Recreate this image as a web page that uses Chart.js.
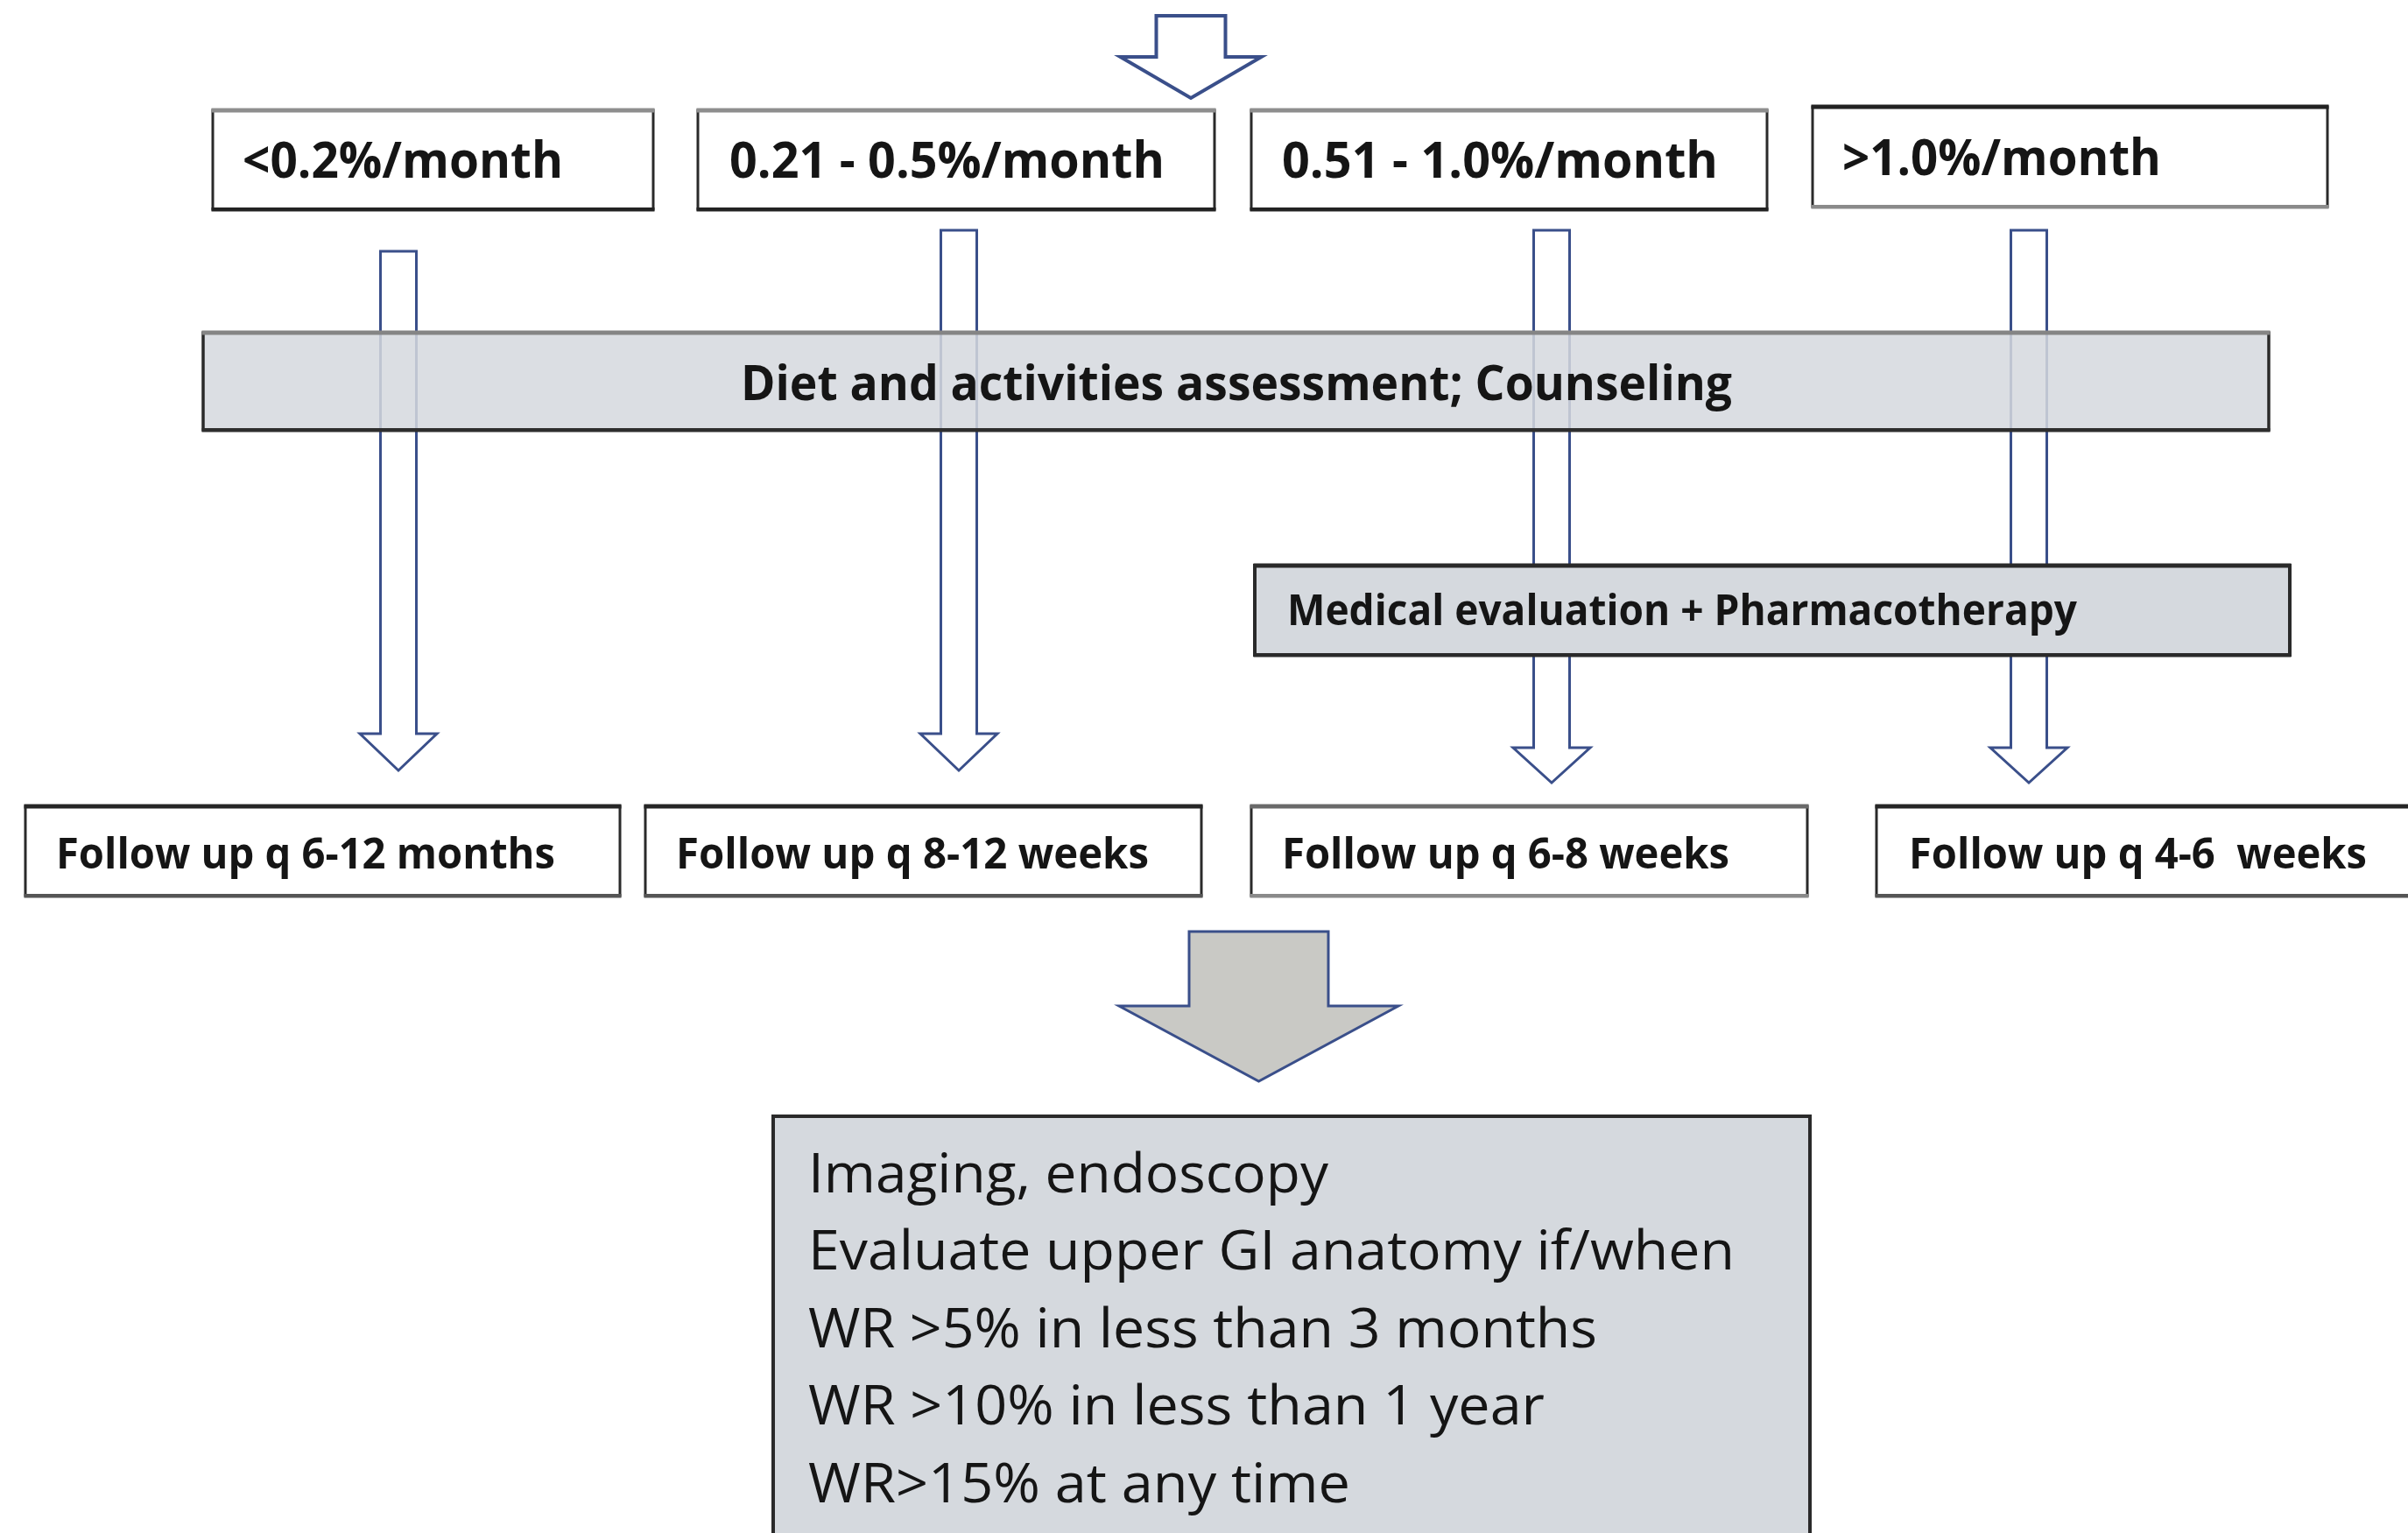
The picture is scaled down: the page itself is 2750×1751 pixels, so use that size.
<!DOCTYPE html>
<html><head><meta charset="utf-8">
<script src="https://cdn.jsdelivr.net/npm/chart.js@4.4.1/dist/chart.umd.min.js"></script>
<style>html,body{margin:0;padding:0;background:#fff;overflow:hidden}canvas{display:block}</style>
</head><body>
<canvas id="c" width="2750" height="1751"></canvas>
<script>
// ---- content (text of the flowchart) ----
const rangeLabels = ['<0.2%/month', '0.21 - 0.5%/month', '0.51 - 1.0%/month', '>1.0%/month'];
const assessmentLabel = ['Diet and activities assessment; Counseling'];
const therapyLabel = ['Medical evaluation + Pharmacotherapy'];
const followUpLabels = ['Follow up q 6-12 months', 'Follow up q 8-12 weeks', 'Follow up q 6-8 weeks', 'Follow up q 4-6  weeks'];
const criteriaLines = ['Imaging, endoscopy', 'Evaluate upper GI anatomy if/when', 'WR >5% in less than 3 months', 'WR >10% in less than 1 year', 'WR>15% at any time'];

// ---- layout, in axis units (x: 0..2750, y: 0..1751 downward) ----
const layout = {
  topArrow: {cx: 1360, shaftW: 79, headW: 161, top: 18, shoulder: 65, tip: 112},
  rangeBoxes: [
    {x0: 243, x1: 746, y0: 126, y1: 239, tx: 277, ty: 203, tw: 366, top: '#8e8e8e', bottom: '#222'},
    {x0: 797, x1: 1387, y0: 126, y1: 239, tx: 833, ty: 203, tw: 497, top: '#8e8e8e', bottom: '#222'},
    {x0: 1429, x1: 2018, y0: 126, y1: 239, tx: 1464, ty: 203, tw: 498, top: '#8e8e8e', bottom: '#222'},
    {x0: 2070, x1: 2658, y0: 122, y1: 236, tx: 2104, ty: 200, tw: 364, top: '#222', bottom: '#8a8a8a'}
  ],
  rangeCap: 41,
  thinArrows: [
    {cx: 455, top: 287, shoulder: 838, tip: 880},
    {cx: 1095, top: 263, shoulder: 838, tip: 880},
    {cx: 1772, top: 263, shoulder: 854, tip: 894},
    {cx: 2317, top: 263, shoulder: 854, tip: 894}
  ],
  thinShaftW: 41, thinHeadW: 88,
  dietBox: {x0: 232, x1: 2591, y0: 380, y1: 491, tx: 846, ty: 457, tw: 1132, cap: 40, top: '#858585', bottom: '#2e2e2e'},
  medBox: {x0: 1433, x1: 2615, y0: 646, y1: 748, tx: 1470, ty: 714, tw: 902, cap: 34, top: '#2a2a2a', bottom: '#2a2a2a'},
  followBoxes: [
    {x0: 29, x1: 708, y0: 921, y1: 1023, tx: 64, ty: 992, tw: 570, top: '#262626', bottom: '#555'},
    {x0: 737, x1: 1372, y0: 921, y1: 1023, tx: 772, ty: 992, tw: 540, top: '#262626', bottom: '#555'},
    {x0: 1429, x1: 2064, y0: 921, y1: 1023, tx: 1464, ty: 992, tw: 511, top: '#6a6a6a', bottom: '#8a8a8a'},
    {x0: 2143, x1: 2770, y0: 921, y1: 1023, tx: 2180, ty: 992, tw: 523, top: '#262626', bottom: '#555'}
  ],
  followCap: 35,
  bigArrow: {cx: 1437.5, shaftW: 159, headW: 319, top: 1064, shoulder: 1149, tip: 1235},
  bottomBox: {x0: 883, x1: 2067, y0: 1275, y1: 1770},
  criteria: {tx: 923, baselines: [1362, 1450, 1539, 1627, 1716], widths: [594, 1058, 901, 841, 619], cap: 45}
};

const BLUE = '#3a4f8a';
const GRAYFILL = '#d5d9de';
const TEXT = '#151515';
const FONT = '"Open Sans", "Noto Sans", sans-serif';

const flowPlugin = {
  id: 'flow',
  afterDraw(chart) {
    const ctx = chart.ctx;
    const sx = chart.scales.x, sy = chart.scales.y;
    const px = v => sx.getPixelForValue(v);
    const py = v => sy.getPixelForValue(v);

    function box(b, fill, lw) {
      const x0 = px(b.x0), x1 = px(b.x1), y0 = py(b.y0), y1 = py(b.y1);
      ctx.save();
      ctx.fillStyle = fill;
      ctx.fillRect(x0, y0, x1 - x0, y1 - y0);
      ctx.strokeStyle = '#2a2a2a';
      ctx.lineWidth = lw || 3;
      ctx.strokeRect(x0, y0, x1 - x0, y1 - y0);
      if (b.top) { ctx.fillStyle = b.top; ctx.fillRect(x0 - 1.5, y0 - 2.5, x1 - x0 + 3, 5); }
      if (b.bottom) { ctx.fillStyle = b.bottom; ctx.fillRect(x0 - 1.5, y1 - 2, x1 - x0 + 3, 4.5); }
      ctx.restore();
    }
    function text(str, x, base, cap, width, weight) {
      const size = cap / 0.714;
      ctx.save();
      ctx.font = `${weight} ${size}px ${FONT}`;
      ctx.fillStyle = TEXT;
      ctx.textBaseline = 'alphabetic';
      ctx.textAlign = 'left';
      const m = ctx.measureText(str).width;
      ctx.translate(px(x), py(base));
      if (width) ctx.scale(width / m, 1);
      ctx.fillText(str, 0, 0);
      ctx.restore();
    }
    function arrow(a, shaftW, headW, fill, stroke, lw) {
      const l = px(a.cx - shaftW / 2), r = px(a.cx + shaftW / 2);
      const hl = px(a.cx - headW / 2), hr = px(a.cx + headW / 2);
      const t = py(a.top), s = py(a.shoulder), tip = py(a.tip), c = px(a.cx);
      ctx.save();
      ctx.beginPath();
      ctx.moveTo(l, t); ctx.lineTo(l, s); ctx.lineTo(hl, s); ctx.lineTo(c, tip);
      ctx.lineTo(hr, s); ctx.lineTo(r, s); ctx.lineTo(r, t); ctx.closePath();
      ctx.fillStyle = fill; ctx.fill();
      ctx.strokeStyle = stroke; ctx.lineWidth = lw; ctx.lineJoin = 'miter';
      ctx.stroke();
      ctx.restore();
    }

    // top entry arrow
    const ta = layout.topArrow;
    arrow(ta, ta.shaftW, ta.headW, '#ffffff', BLUE, 4);

    // range boxes
    layout.rangeBoxes.forEach((b, i) => {
      box(b, '#ffffff', 3);
      text(rangeLabels[i], b.tx, b.ty, layout.rangeCap, b.tw, 'bold');
    });

    // thin arrows
    layout.thinArrows.forEach(a => arrow(a, layout.thinShaftW, layout.thinHeadW, '#ffffff', BLUE, 3));

    // diet box (slightly translucent so shafts show through)
    const d = layout.dietBox;
    box(Object.assign({}, d, {top: null, bottom: null}), 'rgba(213,217,222,0.86)', 3);
    box(Object.assign({}, d, {}), 'rgba(0,0,0,0)', 3);
    text(assessmentLabel[0], d.tx, d.ty, d.cap, d.tw, 'bold');

    // medical box (opaque)
    const m = layout.medBox;
    box(m, GRAYFILL, 4);
    text(therapyLabel[0], m.tx, m.ty, m.cap, m.tw, 'bold');

    // follow-up boxes
    layout.followBoxes.forEach((b, i) => {
      box(b, '#ffffff', 3);
      text(followUpLabels[i], b.tx, b.ty, layout.followCap, b.tw, 'bold');
    });

    // big gray arrow
    const ba = layout.bigArrow;
    arrow(ba, ba.shaftW, ba.headW, '#c9c9c5', BLUE, 3);

    // bottom criteria box
    const bb = layout.bottomBox;
    box(bb, GRAYFILL, 4);
    const cr = layout.criteria;
    criteriaLines.forEach((ln, i) => text(ln, cr.tx, cr.baselines[i], cr.cap, cr.widths[i], 'normal'));
  }
};

new Chart(document.getElementById('c'), {
  type: 'scatter',
  data: {datasets: [{data: [], pointRadius: 0}]},
  options: {
    responsive: false,
    animation: false,
    devicePixelRatio: 1,
    layout: {padding: 0},
    plugins: {legend: {display: false}, tooltip: {enabled: false}},
    scales: {
      x: {type: 'linear', min: 0, max: 2750, display: false},
      y: {type: 'linear', min: 0, max: 1751, reverse: true, display: false}
    }
  },
  plugins: [flowPlugin]
});
</script>
</body></html>
